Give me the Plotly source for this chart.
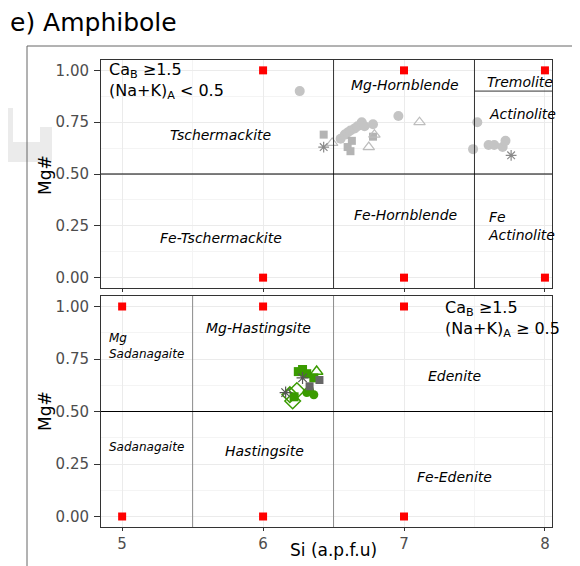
import plotly.graph_objects as go

# ---------------- data ----------------
# Top panel (CaB >= 1.5, (Na+K)A < 0.5) - gray symbols
top_circle_x = [6.26, 6.55, 6.58, 6.60, 6.62, 6.65, 6.67, 6.70, 6.72, 6.78, 6.96,
                7.52, 7.49, 7.60, 7.64, 7.70, 7.72]
top_circle_y = [0.90, 0.67, 0.69, 0.70, 0.71, 0.72, 0.73, 0.75, 0.73, 0.74, 0.78,
                0.75, 0.62, 0.64, 0.64, 0.63, 0.66]
top_square_x = [6.43, 6.63, 6.60, 6.62, 6.78]
top_square_y = [0.69, 0.66, 0.63, 0.61, 0.68]
top_triangle_x = [6.49, 6.75, 6.79, 7.11]
top_triangle_y = [0.65, 0.63, 0.69, 0.75]
top_asterisk_x = [6.43, 7.76]
top_asterisk_y = [0.63, 0.59]

# Bottom panel (CaB >= 1.5, (Na+K)A >= 0.5)
bot_gsquare_x = [6.25, 6.28, 6.31, 6.36, 6.22]
bot_gsquare_y = [0.69, 0.70, 0.68, 0.66, 0.57]
bot_gcircle_x = [6.31, 6.36, 6.33]
bot_gcircle_y = [0.59, 0.58, 0.60]
bot_gtriangle_x = [6.38]
bot_gtriangle_y = [0.69]
bot_gdiamond_x = [6.19, 6.21, 6.24]
bot_gdiamond_y = [0.58, 0.55, 0.60]
bot_square_x = [6.40, 6.33]
bot_square_y = [0.65, 0.62]
bot_asterisk_x = [6.28, 6.16]
bot_asterisk_y = [0.66, 0.59]

# Reference corner points (red squares)
top_ref_x = [6, 7, 8, 6, 7, 8]
top_ref_y = [1, 1, 1, 0, 0, 0]
bot_ref_x = [5, 6, 7, 5, 6, 7]
bot_ref_y = [1, 1, 1, 0, 0, 0]

x_ticks = [5, 6, 7, 8]
y_ticks = [0.0, 0.25, 0.50, 0.75, 1.00]
y_ticklabels = ["0.00", "0.25", "0.50", "0.75", "1.00"]

FONT = "DejaVu Sans"
GREEN = "#3a9b00"

# page has an 8px body margin; figure is sized to fit the window
W, H, OFF = 572, 558, 8
def px(s):
    return (s - OFF) / W
def py(s):
    return 1 - (s - OFF) / H

fig = go.Figure()

def add(x, y, xa, ya, symbol, color, size, lw=0, lc=None):
    fig.add_trace(go.Scatter(
        x=x, y=y, mode="markers", xaxis=xa, yaxis=ya, showlegend=False,
        marker=dict(symbol=symbol, color=color, size=size,
                    line=dict(width=lw, color=lc if lc else color))))

# top panel
add(top_ref_x, top_ref_y, "x", "y", "square", "#ff0000", 8)
add(top_circle_x, top_circle_y, "x", "y", "circle", "#c4c4c4", 10)
add(top_square_x, top_square_y, "x", "y", "square", "#b4b4b4", 8)
add(top_triangle_x, top_triangle_y, "x", "y", "triangle-up-open", "#bdbdbd", 10, 1.2)
add(top_asterisk_x, top_asterisk_y, "x", "y", "asterisk-open", "#8a8a8a", 9, 1.2)

# bottom panel
add(bot_ref_x, bot_ref_y, "x2", "y2", "square", "#ff0000", 8)
add(bot_gsquare_x, bot_gsquare_y, "x2", "y2", "square", GREEN, 9)
add(bot_gcircle_x, bot_gcircle_y, "x2", "y2", "circle", GREEN, 9)
add(bot_gtriangle_x, bot_gtriangle_y, "x2", "y2", "triangle-up-open", GREEN, 11, 1.5)
add(bot_gdiamond_x, bot_gdiamond_y, "x2", "y2", "diamond-open", GREEN, 12, 1.5)
add(bot_square_x, bot_square_y, "x2", "y2", "square", "#666666", 8)
add(bot_asterisk_x, bot_asterisk_y, "x2", "y2", "asterisk-open", "#555555", 10, 1.2)

XR = [4.85, 8.05]
YR = [-0.05, 1.05]

common_x = dict(range=XR, tickvals=x_ticks, showgrid=True, gridcolor="#ebebeb",
                gridwidth=1, zeroline=False, showline=True, linecolor="#333333",
                linewidth=1, mirror=True, ticks="outside", ticklen=3,
                tickcolor="#333333",
                minor=dict(dtick=0.5, tick0=4.5, showgrid=True, gridcolor="#f4f4f4",
                           ticks=""),
                tickfont=dict(family=FONT, size=15, color="#4d4d4d"))
common_y = dict(range=YR, tickvals=y_ticks, ticktext=y_ticklabels, showgrid=True,
                gridcolor="#ebebeb", gridwidth=1, zeroline=False, showline=True,
                linecolor="#333333", linewidth=1, mirror=True, ticks="outside",
                ticklen=6, tickcolor="#333333", ticklabelstandoff=2,
                minor=dict(dtick=0.125, tick0=0.125, showgrid=True,
                           gridcolor="#f4f4f4", ticks=""),
                tickfont=dict(family=FONT, size=15, color="#4d4d4d"))

fig.update_layout(
    width=W, height=H,
    margin=dict(l=0, r=0, t=0, b=0, pad=0),
    paper_bgcolor="white", plot_bgcolor="white",
    xaxis=dict(common_x, domain=[px(101), px(552)], anchor="y", showticklabels=False),
    yaxis=dict(common_y, domain=[py(288), py(60)], anchor="x"),
    xaxis2=dict(common_x, domain=[px(101), px(552)], anchor="y2"),
    yaxis2=dict(common_y, domain=[py(527), py(296)], anchor="x2"),
)

shapes = []
def vline(xr, yr, x, y0, y1, color="#000000"):
    shapes.append(dict(type="line", xref=xr, yref=yr, x0=x, x1=x, y0=y0, y1=y1,
                       line=dict(color=color, width=1)))
def hline(xr, yr, y, x0, x1, color="#000000"):
    shapes.append(dict(type="line", xref=xr, yref=yr, x0=x0, x1=x1, y0=y, y1=y,
                       line=dict(color=color, width=1)))

# faint background artefact on the left edge
for (a, b, c, d) in [(8, 52, 142, 162), (40, 52, 127, 162), (8, 13, 108, 142)]:
    shapes.append(dict(type="rect", xref="paper", yref="paper", layer="below",
                       x0=px(a), x1=px(b), y0=py(d), y1=py(c),
                       line=dict(width=0), fillcolor="#ebebeb"))

# top panel dividers
vline("x", "y", 6.5, YR[0], YR[1], "#333333")
vline("x", "y", 7.5, YR[0], YR[1], "#333333")
hline("x", "y", 0.5, XR[0], XR[1])
hline("x", "y", 0.9, 7.5, XR[1], "#333333")
# bottom panel dividers
vline("x2", "y2", 5.5, YR[0], YR[1], "#8c8c8c")
vline("x2", "y2", 6.5, YR[0], YR[1], "#8c8c8c")
hline("x2", "y2", 0.5, XR[0], XR[1])

# outer frame of the figure panel
shapes.append(dict(type="line", xref="paper", yref="paper", x0=px(27), x1=1,
                   y0=py(46), y1=py(46), line=dict(color="#666666", width=1)))
shapes.append(dict(type="line", xref="paper", yref="paper", x0=px(27), x1=px(27),
                   y0=0, y1=py(46), line=dict(color="#666666", width=1)))
fig.update_layout(shapes=shapes)

ann = []
def txt(xr, yr, x, y, t, size=14, italic=True, xanchor="center"):
    ann.append(dict(xref=xr, yref=yr, x=x, y=y, text=t, showarrow=False,
                    xanchor=xanchor, yanchor="middle", align="left",
                    font=dict(family=FONT, size=size, color="#000",
                              style="italic" if italic else "normal")))

# top labels
txt("x", "y", 4.89, 0.95, "Ca<sub>B</sub> ≥1.5<br>(Na+K)<sub>A</sub> &lt; 0.5", 16, False, "left")
txt("x", "y", 5.70, 0.69, "Tschermackite")
txt("x", "y", 5.70, 0.19, "Fe-Tschermackite")
txt("x", "y", 7.01, 0.93, "Mg-Hornblende")
txt("x", "y", 7.01, 0.30, "Fe-Hornblende")
txt("x", "y", 7.82, 0.945, "Tremolite")
txt("x", "y", 7.84, 0.79, "Actinolite")
txt("x", "y", 7.585, 0.25, "Fe<br>Actinolite", 14, True, "left")
# bottom labels
txt("x2", "y2", 7.28, 0.94, "Ca<sub>B</sub> ≥1.5<br>(Na+K)<sub>A</sub> ≥ 0.5", 16, False, "left")
txt("x2", "y2", 4.89, 0.81, "Mg<br>Sadanagaite", 12, True, "left")
txt("x2", "y2", 5.97, 0.90, "Mg-Hastingsite")
txt("x2", "y2", 7.36, 0.67, "Edenite")
txt("x2", "y2", 4.89, 0.33, "Sadanagaite", 12, True, "left")
txt("x2", "y2", 6.01, 0.31, "Hastingsite")
txt("x2", "y2", 7.36, 0.19, "Fe-Edenite")

# axis titles
ann.append(dict(xref="paper", yref="paper", x=px(45), y=py(175), text="Mg#",
                textangle=-90, showarrow=False, xanchor="center", yanchor="middle",
                font=dict(family=FONT, size=17, color="#000")))
ann.append(dict(xref="paper", yref="paper", x=px(45), y=py(411), text="Mg#",
                textangle=-90, showarrow=False, xanchor="center", yanchor="middle",
                font=dict(family=FONT, size=17, color="#000")))
ann.append(dict(xref="paper", yref="paper", x=px(333), y=py(550), text="Si (a.p.f.u)",
                showarrow=False, xanchor="center", yanchor="middle",
                font=dict(family=FONT, size=17, color="#000")))
# title
ann.append(dict(xref="paper", yref="paper", x=px(8), y=py(22), text="e) Amphibole",
                showarrow=False, xanchor="left", yanchor="middle",
                font=dict(family=FONT, size=25, color="#000")))
fig.update_layout(annotations=ann)

fig.write_html("out.html")
